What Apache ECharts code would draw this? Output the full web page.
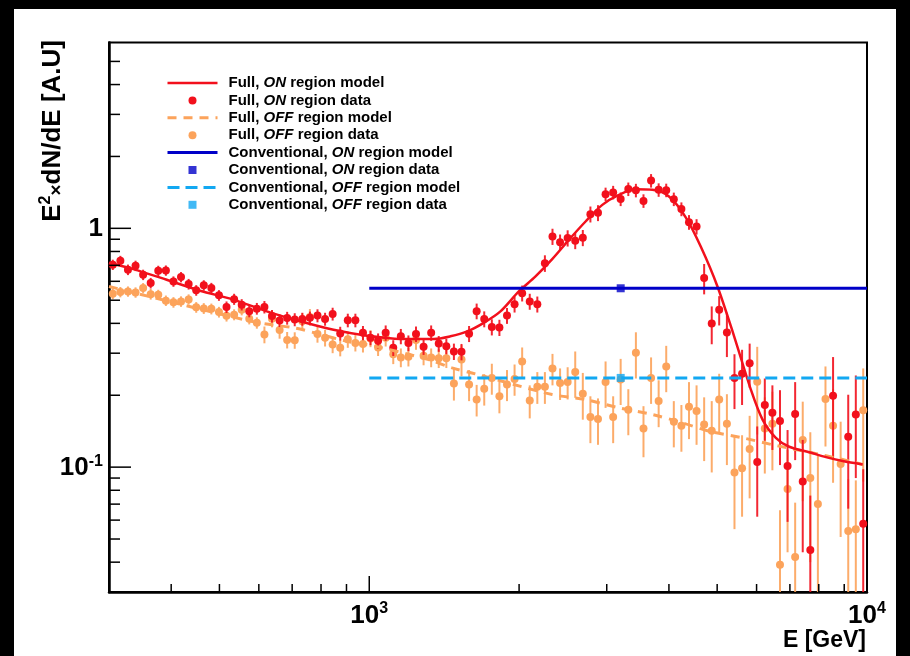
<!DOCTYPE html>
<html><head><meta charset="utf-8">
<script src="https://cdn.jsdelivr.net/npm/echarts@6/dist/echarts.min.js"></script>
<style>
html,body{margin:0;padding:0;background:#000;width:910px;height:656px;overflow:hidden}
#c{position:absolute;left:14px;top:9px;width:882px;height:647px;background:#fff}
</style></head><body><div id="c"></div>
<script>
// bin centres (GeV)
const energies = [305.3,316.2,327.5,339.2,351.3,363.8,376.8,390.3,404.2,418.6,
433.6,449.1,465.1,481.7,498.9,516.7,535.2,554.3,574.0,594.5,
615.7,637.7,660.5,684.0,708.4,733.7,759.9,787.0,815.1,844.2,
874.3,905.5,937.8,971.3,1005.8,1041.7,1078.9,1117.4,1157.3,1198.6,
1241.4,1285.7,1331.6,1379.1,1428.4,1479.3,1532.2,1586.9,1643.5,1702.2,
1763.0,1825.9,1891.1,1958.6,2028.5,2101.0,2176.0,2253.6,2334.1,2417.4,
2503.7,2593.1,2685.7,2781.6,2880.9,2983.8,3090.3,3199.4,3314.9,3433.2,
3555.8,3682.7,3814.2,3950.4,4091.4,4237.5,4388.8,4545.5,4707.8,4875.9,
5047.0,5230.3,5417.0,5610.4,5810.7,6018.2,6233.1,6455.6,6686.1,6924.8,
7172.1,7428.1,7693.3,7968.0,8252.5,8547.1,8852.3,9168.3,9495.7,9826.6];

// Full, ON region data
const onData = [0.704,0.731,0.671,0.697,0.639,0.590,0.664,0.666,0.599,0.625,
0.584,0.550,0.577,0.562,0.524,0.468,0.505,0.479,0.449,0.461,
0.468,0.429,0.411,0.421,0.415,0.417,0.422,0.431,0.417,0.438,
0.363,0.412,0.412,0.365,0.348,0.338,0.365,0.316,0.353,0.331,
0.361,0.319,0.365,0.329,0.321,0.305,0.304,0.362,0.450,0.417,
0.386,0.384,0.431,0.481,0.535,0.494,0.481,0.714,0.924,0.874,
0.910,0.887,0.913,1.146,1.161,1.390,1.414,1.326,1.460,1.442,
1.303,1.584,1.449,1.444,1.325,1.204,1.061,1.017,0.619,0.399,
0.456,0.366,0.236,0.246,0.272,0.105,0.182,0.169,0.156,0.101,
0.167,0.087,0.045,null,null,0.199,null,0.134,0.166,0.058];
const onErr = [0.035,0.036,0.034,0.035,0.032,0.030,0.033,0.033,0.030,0.031,
0.030,0.028,0.029,0.029,0.027,0.026,0.027,0.026,0.025,0.026,
0.028,0.026,0.025,0.026,0.026,0.026,0.026,0.027,0.026,0.027,
0.024,0.027,0.027,0.025,0.024,0.025,0.027,0.024,0.026,0.025,
0.027,0.024,0.027,0.025,0.024,0.024,0.024,0.028,0.034,0.032,
0.030,0.030,0.033,0.037,0.041,0.038,0.037,0.057,0.072,0.068,
0.071,0.069,0.071,0.088,0.089,0.090,0.092,0.087,0.095,0.094,
0.085,0.103,0.094,0.094,0.086,0.080,0.075,0.075,0.090,0.072,
0.064,0.077,0.061,0.064,0.057,0.043,0.053,0.051,0.054,0.042,
0.060,0.043,0.031,null,null,0.090,null,0.067,0.076,0.040];

// Full, OFF region data
const offData = [0.532,0.541,0.544,0.539,0.562,0.530,0.527,0.498,0.490,0.494,
0.504,0.467,0.462,0.460,0.446,0.430,0.435,0.456,0.418,0.402,
0.359,0.418,0.375,0.341,0.340,0.408,0.425,0.361,0.348,0.326,
0.316,0.343,0.331,0.328,0.346,0.317,0.348,0.297,0.288,0.290,
0.341,0.293,0.288,0.286,0.286,0.224,0.282,0.222,0.192,0.213,
0.236,0.198,0.222,0.234,0.277,0.190,0.217,0.217,0.259,0.225,
0.227,0.250,0.203,0.162,0.159,0.227,0.162,0.233,0.174,0.301,
0.145,0.236,0.189,0.264,0.155,0.149,0.179,0.172,0.151,0.142,
0.192,0.152,0.095,0.099,0.119,0.228,0.145,0.152,0.039,0.081,
0.042,0.130,0.090,0.070,0.193,0.149,0.103,0.054,0.055,0.173];
const offErr = [0.027,0.027,0.027,0.027,0.028,0.027,0.026,0.025,0.025,0.025,
0.025,0.024,0.024,0.024,0.023,0.023,0.023,0.024,0.022,0.022,
0.029,0.033,0.030,0.027,0.027,0.033,0.034,0.029,0.028,0.026,
0.025,0.027,0.026,0.026,0.028,0.025,0.028,0.027,0.026,0.026,
0.031,0.026,0.026,0.026,0.026,0.034,0.042,0.033,0.029,0.032,
0.035,0.030,0.033,0.035,0.040,0.030,0.033,0.033,0.039,0.034,
0.035,0.055,0.045,0.036,0.035,0.050,0.036,0.051,0.038,0.066,
0.035,0.052,0.042,0.058,0.034,0.033,0.048,0.048,0.045,0.047,
0.054,0.050,0.040,0.037,0.045,0.091,0.051,0.055,0.027,0.037,
0.029,0.058,0.050,0.042,0.071,0.063,0.052,0.035,0.033,0.086];

// Full, ON region model
const onModelE = [300,335.6,391.7,457.1,533.3,622.5,726.4,847.7,989.5,1154.6,1347,1455.5,1572.7,1698,1834.6,1997.4,2158,2331,2518,2720,2939,3173,3429,3705,4001,4323,4634,5007,5408,5843,6168,6559,6978,7655,8271,8936,9802];
const onModelV = [0.717,0.675,0.609,0.548,0.503,0.449,0.408,0.376,0.355,0.344,0.344,0.353,0.370,0.402,0.449,0.544,0.629,0.743,0.895,1.068,1.254,1.380,1.456,1.449,1.358,1.112,0.839,0.571,0.353,0.2113,0.1582,0.1327,0.1217,0.1155,0.1101,0.1060,0.1026];
// Full, OFF region model
const offModelE = [300,588.8,709.7,778.6,901.8,1028,1316,1467,1634,1849,2331,2720,3173,3705,4257,4817,5623,6559,7655,8936,9802];
const offModelV = [0.571,0.405,0.3826,0.3646,0.3363,0.3205,0.2820,0.2603,0.2457,0.2289,0.2013,0.1919,0.1771,0.1661,0.1533,0.1414,0.1327,0.1232,0.1155,0.1077,0.1026];
// Conventional
const convRange = [1000, 10000];
const convCentre = [3200];
const convOn = [0.561];
const convOff = [0.2364];

// axes
const xRange = [300, 10000];
const yRange = [0.03, 6];
const xMajorTicks = [1000, 10000];
const xMinorTicks = [400,500,600,700,800,900,2000,3000,4000,5000,6000,7000,8000,9000];
const yMajorTicks = [0.1, 1];
const yMinorTicks = [0.04,0.05,0.06,0.07,0.08,0.09,0.2,0.3,0.4,0.5,0.6,0.7,0.8,0.9,2,3,4,5];
const xLabelValues = [1000, 10000];
const xLabelTexts = ['{b|10}{s|3}', '{b|10}{s|4}'];
const yLabelValues = [0.1, 1];
const yLabelTexts = ['{b|10}{s|-1}', '{b|1}'];

const legendNames = ['Full, ON region model','Full, ON region data','Full, OFF region model','Full, OFF region data',
 'Conventional, ON region model','Conventional, ON region data','Conventional, OFF region model','Conventional, OFF region data'];

const F = '"Liberation Sans", Arial, Helvetica, sans-serif';
const RED = '#f2101c', ORANGE = '#fca35b', BLUE = '#0000c8', CYAN = '#12a8f2';
const SQUARE_ICON = 'path://M0,4L0,4M21,0H29V8H21ZM50,4L50,4';

function pick(vals, texts, v) {
  for (let i = 0; i < vals.length; i++) if (Math.abs(Math.log10(v) - Math.log10(vals[i])) < 1e-6) return texts[i];
  return '';
}
function pts(xs, ys) { const out = []; xs.forEach((x, i) => { if (ys[i] != null) out.push([x, ys[i]]); }); return out; }
function errPts(xs, ys, es) { const out = []; xs.forEach((x, i) => { if (ys[i] != null) out.push([x, ys[i], es[i]]); }); return out; }

function errSeries(name, data, color, z) {
  return {
    type: 'custom', name, data, z, silent: true, encode: {x: 0, y: 1},
    renderItem(params, api) {
      const cs = params.coordSys;
      const x = api.value(0), y = api.value(1), e = api.value(2);
      const hi = api.coord([x, y + e]);
      const lo = api.coord([x, Math.max(y - e, 1e-4)]);
      const top = Math.max(hi[1], cs.y), bot = Math.min(lo[1], cs.y + cs.height);
      return {type: 'line', shape: {x1: hi[0], y1: top, x2: hi[0], y2: bot}, style: {stroke: color, lineWidth: 2, opacity: 0.9}};
    }
  };
}
function xTickSeries(vals, len) {
  return {type: 'custom', silent: true, z: 10, data: vals.map(v => [v, 1]), encode: {x: 0, y: 1},
    renderItem(params, api) {
      const cs = params.coordSys; const px = api.coord([api.value(0), 1])[0]; const y0 = cs.y + cs.height;
      return {type: 'line', shape: {x1: px, y1: y0, x2: px, y2: y0 - len}, style: {stroke: '#000', lineWidth: 1.5}};
    }};
}
function yTickSeries(vals, len) {
  return {type: 'custom', silent: true, z: 10, data: vals.map(v => [1000, v]), encode: {x: 0, y: 1},
    renderItem(params, api) {
      const cs = params.coordSys; const py = api.coord([1000, api.value(1)])[1]; const x0 = cs.x;
      return {type: 'line', shape: {x1: x0, y1: py, x2: x0 + len, y2: py}, style: {stroke: '#000', lineWidth: 1.5}};
    }};
}

const chart = echarts.init(document.getElementById('c'), null, {renderer: 'canvas'});
const labRich = {
  b: {fontFamily: F, fontWeight: 'bold', fontSize: 26, color: '#000', lineHeight: 28, verticalAlign: 'bottom'},
  s: {fontFamily: F, fontWeight: 'bold', fontSize: 16, color: '#000', lineHeight: 16, verticalAlign: 'top'}
};
const option = {
  animation: false,
  backgroundColor: '#fff',
  grid: {left: 95, top: 33.5, right: 29, bottom: 64, show: true, borderColor: '#000', borderWidth: 2, backgroundColor: 'transparent'},
  xAxis: {type: 'log', logBase: 10, min: xRange[0], max: xRange[1],
    axisLine: {lineStyle: {color: '#000', width: 2.5}}, axisTick: {show: false}, splitLine: {show: false},
    axisLabel: {margin: 9, formatter: v => pick(xLabelValues, xLabelTexts, v), rich: labRich, showMinLabel: true, showMaxLabel: true}},
  yAxis: {type: 'log', logBase: 10, min: yRange[0], max: yRange[1],
    axisLine: {lineStyle: {color: '#000', width: 2.5}}, axisTick: {show: false}, splitLine: {show: false},
    axisLabel: {margin: 6, formatter: v => pick(yLabelValues, yLabelTexts, v), rich: labRich}},
  legend: {
    orient: 'vertical', left: 152, top: 66.5, padding: 0, itemWidth: 50, itemHeight: 8, itemGap: 2.4,
    symbolKeepAspect: true, selectedMode: false,
    textStyle: {fontFamily: F, fontWeight: 'bold', fontSize: 15, color: '#000', lineHeight: 15, padding: [0, 0, 0, 6],
      rich: {i: {fontFamily: F, fontStyle: 'italic', fontWeight: 'bold', fontSize: 15, color: '#000', lineHeight: 15}}},
    formatter: n => n.replace(/(ON|OFF)/, '{i|$1}'),
    data: [
      {name: legendNames[0], itemStyle: {opacity: 0}, lineStyle: {width: 2.5}},
      {name: legendNames[1], icon: 'circle'},
      {name: legendNames[2], itemStyle: {opacity: 0}, lineStyle: {width: 3}},
      {name: legendNames[3], icon: 'circle'},
      {name: legendNames[4], itemStyle: {opacity: 0}, lineStyle: {width: 3}},
      {name: legendNames[5], icon: SQUARE_ICON},
      {name: legendNames[6], itemStyle: {opacity: 0}, lineStyle: {width: 3}},
      {name: legendNames[7], icon: SQUARE_ICON}
    ]
  },
  graphic: [
    {type: 'text', x: 38, y: 31, rotation: Math.PI / 2, silent: true,
      style: {text: '{b|E}{s|2}{t|×}{b|dN/dE [A.U]}', align: 'right', verticalAlign: 'middle',
        rich: {b: {fontFamily: F, fontWeight: 'bold', fontSize: 26, fill: '#000', lineHeight: 28, verticalAlign: 'bottom'},
               s: {fontFamily: F, fontWeight: 'bold', fontSize: 16, fill: '#000', lineHeight: 16, verticalAlign: 'top'},
               t: {fontFamily: F, fontWeight: 'bold', fontSize: 19, fill: '#000', lineHeight: 24, verticalAlign: 'bottom'}}}},
    {type: 'text', x: 852, y: 632, silent: true,
      style: {text: 'E [GeV]', font: 'bold 23px ' + F, fill: '#000', align: 'right', verticalAlign: 'middle'}}
  ],
  series: [
    errSeries('offErr', errPts(energies, offData, offErr), ORANGE, 2),
    {type: 'scatter', name: legendNames[3], data: pts(energies, offData), symbol: 'circle', symbolSize: 8, itemStyle: {color: ORANGE, opacity: 1}, z: 3},
    errSeries('onErr', errPts(energies, onData, onErr), RED, 4),
    {type: 'scatter', name: legendNames[1], data: pts(energies, onData), symbol: 'circle', symbolSize: 8, itemStyle: {color: RED, opacity: 1}, z: 5},
    {type: 'line', name: legendNames[2], data: pts(offModelE, offModelV), smooth: 0.3, symbol: 'none', showSymbol: false,
      lineStyle: {color: ORANGE, width: 3, type: [9, 7]}, itemStyle: {color: ORANGE}, z: 6},
    {type: 'line', name: legendNames[0], data: pts(onModelE, onModelV), smooth: 0.3, symbol: 'none', showSymbol: false,
      lineStyle: {color: RED, width: 2.5}, itemStyle: {color: RED}, z: 7},
    {type: 'line', name: legendNames[4], data: pts(convRange, [convOn[0], convOn[0]]), symbol: 'none', showSymbol: false,
      lineStyle: {color: BLUE, width: 3}, itemStyle: {color: BLUE}, z: 8},
    {type: 'line', name: legendNames[6], data: pts(convRange, [convOff[0], convOff[0]]), symbol: 'none', showSymbol: false,
      lineStyle: {color: CYAN, width: 3, type: [12, 6]}, itemStyle: {color: CYAN}, z: 8},
    {type: 'scatter', name: legendNames[5], data: pts(convCentre, convOn), symbol: 'rect', symbolSize: 8, itemStyle: {color: BLUE}, z: 9},
    {type: 'scatter', name: legendNames[7], data: pts(convCentre, convOff), symbol: 'rect', symbolSize: 8, itemStyle: {color: CYAN}, z: 9},
    xTickSeries(xMajorTicks, 16), xTickSeries(xMinorTicks, 8),
    yTickSeries(yMajorTicks, 22), yTickSeries(yMinorTicks, 11)
  ]
};
chart.setOption(option);
</script></body></html>
